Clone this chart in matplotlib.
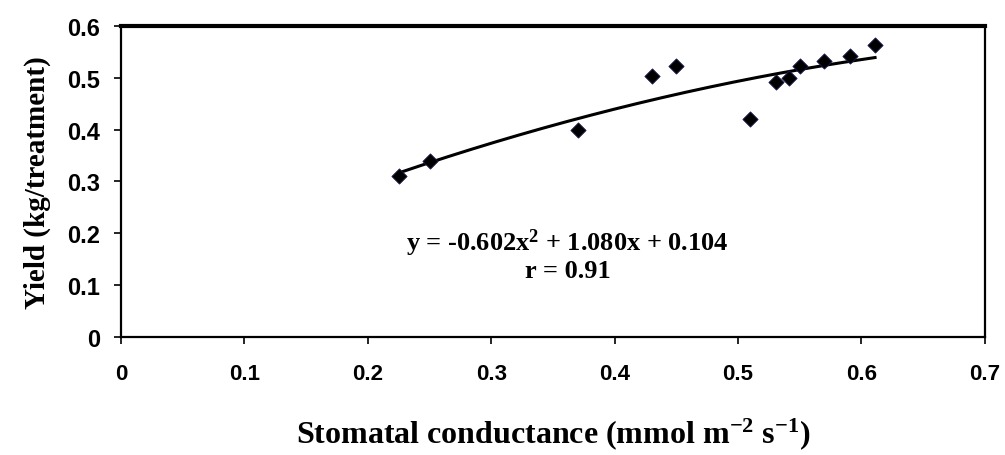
import numpy as np
import matplotlib.pyplot as plt

# stomatal conductance (x) and yield (y)
conductance = [0.225, 0.250, 0.370, 0.430, 0.450, 0.510, 0.531, 0.541, 0.550, 0.570, 0.591, 0.611]
yield_kg = [0.310, 0.340, 0.400, 0.503, 0.522, 0.420, 0.492, 0.500, 0.522, 0.533, 0.542, 0.563]

# quadratic trend line as printed on the chart
fit_coef = [-0.602, 1.080, 0.104]
x_ticks = [0, 0.1, 0.2, 0.3, 0.4, 0.5, 0.6, 0.7]
y_ticks = [0, 0.1, 0.2, 0.3, 0.4, 0.5, 0.6]

plt.rcParams['mathtext.fontset'] = 'custom'
plt.rcParams['mathtext.rm'] = 'Liberation Serif:bold'
plt.rcParams['mathtext.it'] = 'Liberation Serif:bold'
plt.rcParams['mathtext.bf'] = 'Liberation Serif:bold'

fig = plt.figure(figsize=(10.05, 4.56), dpi=100)
ax = fig.add_axes([0.1204, 0.2588, 0.8596, 0.682])

xs = np.linspace(min(conductance), max(conductance), 200)
ax.plot(xs, np.polyval(fit_coef, xs), color='black', lw=2.2)
ax.scatter(conductance, yield_kg, marker='D', s=60, color='black',
           edgecolors='#1a1a50', linewidths=0.6, zorder=3)

ax.set_xlim(0, 0.7)
ax.set_ylim(0, 0.6)
ax.set_xticks(x_ticks)
ax.set_yticks(y_ticks)
ax.set_xticklabels([f'{t:g}' for t in x_ticks], fontfamily='Liberation Sans',
                   fontweight='bold', fontsize=16)
ax.set_yticklabels([f'{t:g}' for t in y_ticks], fontfamily='Liberation Sans',
                   fontweight='bold', fontsize=17)
ax.tick_params(direction='out', length=5, width=1.2)
ax.tick_params(axis='x', pad=14)
ax.tick_params(axis='y', pad=10)
for side in ['left', 'bottom', 'right']:
    ax.spines[side].set_linewidth(1.6)
ax.spines['top'].set_linewidth(3)

ax.set_xlabel('Stomatal conductance (mmol m$^{-2}$ s$^{-1}$)', fontfamily='Liberation Serif',
              fontweight='bold', fontsize=23, labelpad=22)
ax.set_ylabel('Yield (kg/treatment)', fontfamily='Liberation Serif',
              fontweight='bold', fontsize=21, labelpad=12)

ax.text(0.362, 0.183, 'y = -0.602x$^{2}$ + 1.080x + 0.104', ha='center', va='center',
        fontfamily='Liberation Serif', fontweight='bold', fontsize=19)
ax.text(0.362, 0.128, 'r = 0.91', ha='center', va='center',
        fontfamily='Liberation Serif', fontweight='bold', fontsize=19)

fig.savefig('out.png', dpi=100)
